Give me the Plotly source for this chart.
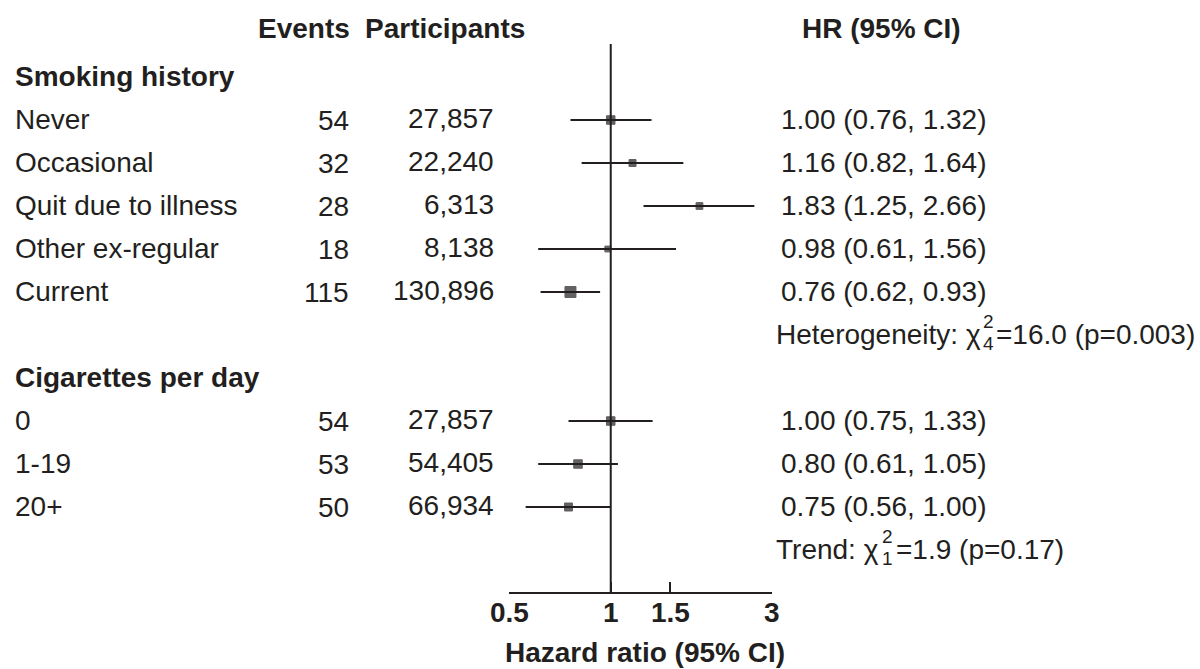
import math
import plotly.graph_objects as go

# ---------------- data ----------------
sections = ["Smoking history", "Cigarettes per day"]
smoking_labels = ["Never", "Occasional", "Quit due to illness", "Other ex-regular", "Current"]
smoking_events = [54, 32, 28, 18, 115]
smoking_participants = [27857, 22240, 6313, 8138, 130896]
smoking_hr = [1.00, 1.16, 1.83, 0.98, 0.76]
smoking_lo = [0.76, 0.82, 1.25, 0.61, 0.62]
smoking_hi = [1.32, 1.64, 2.66, 1.56, 0.93]
smoking_box = [8.5, 7, 6.8, 5.8, 11]

cig_labels = ["0", "1-19", "20+"]
cig_events = [54, 53, 50]
cig_participants = [27857, 54405, 66934]
cig_hr = [1.00, 0.80, 0.75]
cig_lo = [0.75, 0.61, 0.56]
cig_hi = [1.33, 1.05, 1.00]
cig_box = [8.5, 8.5, 8]

het_test = ("Heterogeneity: ", "2", "4", "=16.0 (p=0.003)")
trend_test = ("Trend: ", "2", "1", "=1.9 (p=0.17)")

tick_vals = [0.5, 1, 1.5, 3]
tick_text = ["0.5", "1", "1.5", "3"]
x_title = "Hazard ratio (95% CI)"
col_headers = ["Events", "Participants", "HR (95% CI)"]

# ---------------- layout helpers ----------------
W, H = 1200, 669
PLOT_BOTTOM = 592          # px of the x axis line
ROW0_PX, ROW_STEP = 34, 43  # pixel of row 0 and row spacing
INK = "#231f20"
FONT = "Liberation Sans, Arial, sans-serif"
FS = 28

def px2row(p):
    return (p - ROW0_PX) / ROW_STEP

def px(xp):
    return xp / W

def ypaper(p):
    return (PLOT_BOTTOM - p) / PLOT_BOTTOM

# row indices
smoke_rows = [2, 3, 4, 5, 6]
het_row = 7
cig_rows = [9, 10, 11]
trend_row = 12
section_rows = [1, 8]

labels = smoking_labels + cig_labels
events = smoking_events + cig_events
parts = smoking_participants + cig_participants
hr = smoking_hr + cig_hr
lo = smoking_lo + cig_lo
hi = smoking_hi + cig_hi
box = smoking_box + cig_box
rows = smoke_rows + cig_rows

fig = go.Figure()

# reference line at HR = 1
fig.add_trace(go.Scatter(x=[1, 1], y=[px2row(44), px2row(PLOT_BOTTOM)], mode="lines",
                         line=dict(color=INK, width=2), hoverinfo="skip", showlegend=False))

# confidence interval lines
cx, cy = [], []
for l, h, r in zip(lo, hi, rows):
    cx += [l, h, None]
    cy += [r, r, None]
fig.add_trace(go.Scatter(x=cx, y=cy, mode="lines", line=dict(color=INK, width=2),
                         hoverinfo="skip", showlegend=False, cliponaxis=False))

# point estimates
fig.add_trace(go.Scatter(x=hr, y=rows, mode="markers",
                         marker=dict(symbol="square", size=box, color=INK,
                                     line=dict(width=1, color=INK)),
                         showlegend=False, cliponaxis=False))

ann = []
def text(x, y, s, anchor="left", size=FS, bold=False, yref="y", xref="paper"):
    ann.append(dict(x=x, y=y, xref=xref, yref=yref, text=("<b>%s</b>" % s) if bold else s,
                    showarrow=False, xanchor=anchor, yanchor="middle",
                    font=dict(family=FONT, size=size, color=INK)))

# headers
hdr_r = px2row(28)
text(px(352), hdr_r, col_headers[0], "right", bold=True)
text(px(363), hdr_r, col_headers[1], "left", bold=True)
text(px(881), hdr_r, col_headers[2], "center", bold=True)

for s, r in zip(sections, section_rows):
    text(px(13), r - 1 / ROW_STEP, s, "left", bold=True)

for lab, ev, pa, h, l, u, r in zip(labels, events, parts, hr, lo, hi, rows):
    text(px(13), r - 1 / ROW_STEP, lab, "left")
    text(px(351), r, str(ev), "right")
    text(px(496), r - 2 / ROW_STEP, f"{pa:,}", "right")
    text(px(779), r - 1 / ROW_STEP, f"{h:.2f} ({l:.2f}, {u:.2f})", "left")

def chi_line(test, r, chi_end, script_x, rest_x):
    prefix, sup, sub, rest = test
    text(px(chi_end), r - 1 / ROW_STEP, prefix + "\u03c7", "right")
    text(px(script_x), r - 14 / ROW_STEP, sup, "center", size=19)
    text(px(script_x), r + 8 / ROW_STEP, sub, "center", size=19)
    text(px(rest_x), r - 1 / ROW_STEP, rest, "left")

chi_line(het_test, het_row, 983, 988, 994)
chi_line(trend_test, trend_row, 881, 887, 894)

# tick labels (placed on the log axis)
for v, t in zip(tick_vals, tick_text):
    text(math.log10(v), ypaper(612), t, "center", bold=True, yref="paper", xref="x")

# x-axis title
text(px(645), ypaper(652), x_title, "center", bold=True, yref="paper")

fig.update_layout(
    width=W, height=H,
    margin=dict(l=0, r=0, t=0, b=H - PLOT_BOTTOM, pad=0, autoexpand=False),
    paper_bgcolor="white", plot_bgcolor="white",
    annotations=ann,
    xaxis=dict(type="log", range=[math.log10(0.5), math.log10(3)],
               domain=[509 / W, 772 / W],
               showline=True, linecolor=INK, linewidth=2,
               ticks="inside", ticklen=10, tickwidth=2, tickcolor=INK,
               tickvals=tick_vals, showticklabels=False,
               showgrid=False, zeroline=False, fixedrange=True, automargin=False),
    yaxis=dict(range=[px2row(PLOT_BOTTOM), px2row(0)], domain=[0, 1],
               visible=False, showgrid=False, zeroline=False, fixedrange=True, automargin=False),
)

fig.write_html("out.html")
